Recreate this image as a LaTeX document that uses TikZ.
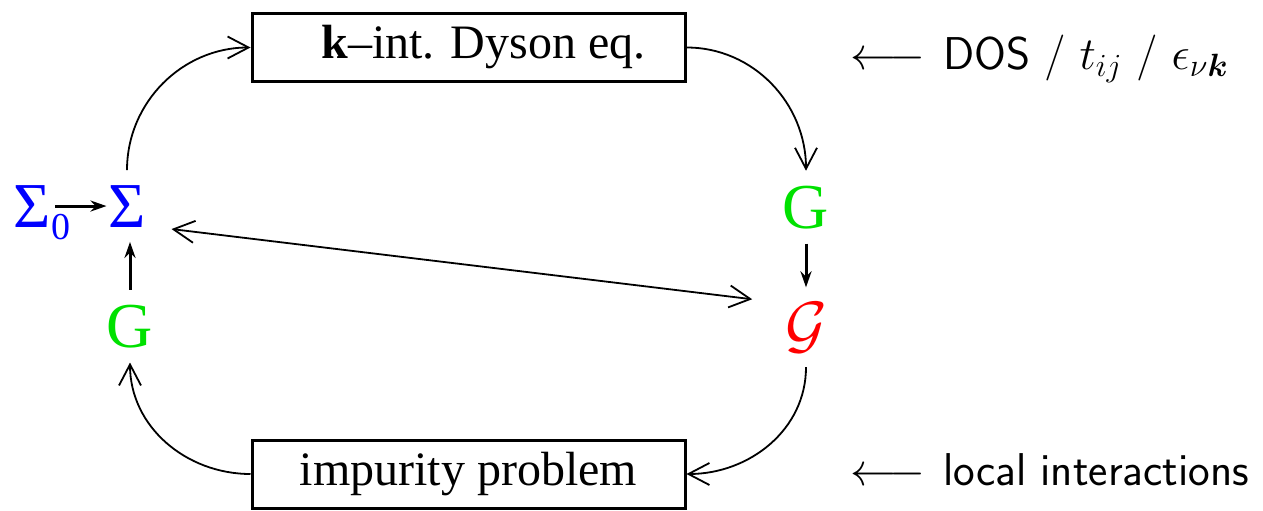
\documentclass[tikz,border=0pt]{standalone}
\usepackage{fix-cm}
\usepackage{amsmath}
\usepackage{fontspec}
\setmainfont{Liberation Serif}
\usetikzlibrary{arrows.meta}
\definecolor{figgreen}{RGB}{0,225,0}
\begin{document}
\begin{tikzpicture}[x=1pt, y=1pt, line width=1.8pt,
  every node/.style={font=\fontsize{48}{58}\selectfont},
  sym/.style={font=\fontsize{64}{72}\selectfont, inner xsep=1pt, inner ysep=14pt, anchor=base},
  procbox/.style={draw, line width=3pt, minimum width=433pt, minimum height=68pt, inner sep=0pt},
  barb/.style={-{Straight Barb[length=21pt,width=22pt,line width=1.8pt]}},
  dblbarb/.style={{Straight Barb[length=21pt,width=22pt,line width=1.8pt]}-{Straight Barb[length=21pt,width=22pt,line width=1.8pt]}},
  tip/.style={line width=3pt, -{Stealth[length=16pt,width=11pt]}},
  note/.style={font=\fontsize{46}{54}\selectfont\sffamily, anchor=base west, inner sep=0pt}]
  \useasboundingbox (0,0) rectangle (1263,-511);
  % the two boxes
  \node[procbox] (dyson) at (468.5,-47.5) {\hspace*{30pt}\textbf{k}--int. Dyson eq.};
  \node[procbox] (impur) at (468.5,-474) {impurity problem};
  % symbols
  \node[sym, text=blue, anchor=base west, inner xsep=3pt] (sig0) at (10,-227) {Σ\rlap{\raisebox{-12pt}[0pt][0pt]{\fontsize{38}{42}\selectfont 0}}};
  \node[sym, text=blue] (sig) at (127,-227) {Σ};
  \node[sym, text=figgreen] (gl) at (130,-347) {G};
  \node[sym, text=figgreen] (gr) at (806,-228) {G};
  \node[sym, text=red] (gcal) at (806,-346) {$\mathcal{G}$};
  % inputs
  \node[note] (dos) at (850,-70) {$\longleftarrow$\hspace{18pt}DOS\hspace{14pt}/\hspace{14pt}$t_{ij}$\hspace{14pt}/\hspace{14pt}$\epsilon_{\nu\boldsymbol{k}}$};
  \node[note] (loc) at (850,-485) {$\longleftarrow$\hspace{18pt}local interactions};
  % loop
  \foreach \a/\b/\o/\i in {sig.north/dyson.west/90/180, dyson.east/gr.north/0/90,
                           gcal.south/impur.east/-90/0, impur.west/gl.south/180/-90}
    \draw[barb] (\a) to[out=\o, in=\i] (\b);
  \draw[tip] (sig0.east) -- (sig.west);
  \draw[tip] (gl.north) -- (gl.north |- sig.south);
  \draw[tip] (gr) -- (gcal);
  \draw[dblbarb] ([shift={(24,-23)}]sig.east) -- ([shift={(-31,28)}]gcal.west);
\end{tikzpicture}
\end{document}
